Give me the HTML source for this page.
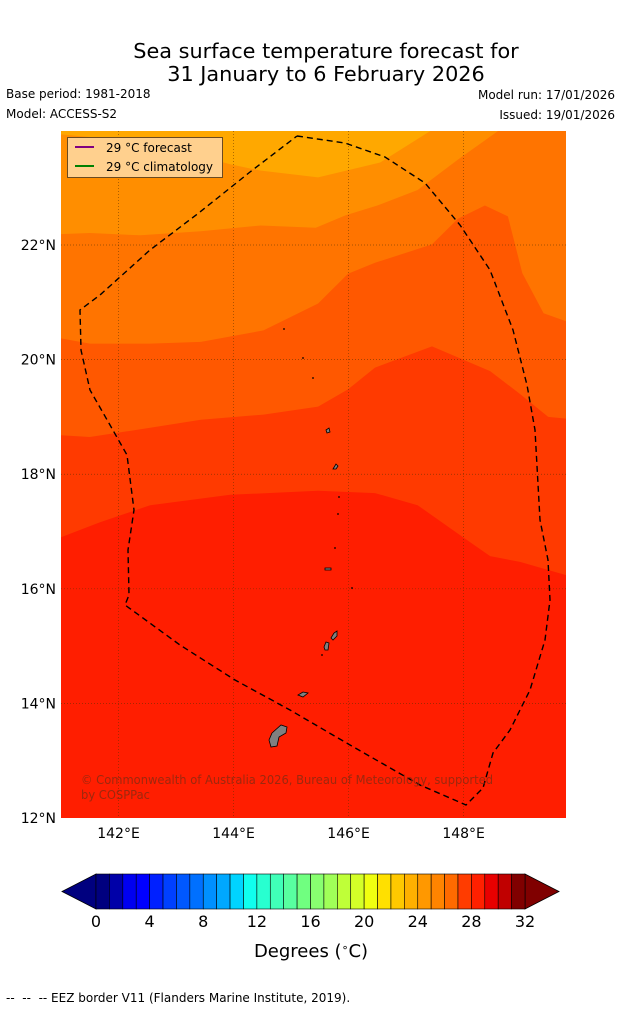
<!DOCTYPE html>
<html><head><meta charset="utf-8"><style>
body{margin:0;background:#fff;width:621px;height:1011px;overflow:hidden;font-family:"DejaVu Sans","Liberation Sans",sans-serif}
svg{position:absolute;left:0;top:0}
</style></head><body>
<svg id="chart" width="621" height="1011" xmlns="http://www.w3.org/2000/svg">
<text x="326" y="58" text-anchor="middle" font-size="20.8">Sea surface temperature forecast for</text>
<text x="326" y="81" text-anchor="middle" font-size="20.8">31 January to 6 February 2026</text>
<text x="6" y="98" font-size="12">Base period: 1981-2018</text>
<text x="6" y="118" font-size="12">Model: ACCESS-S2</text>
<text x="615" y="99" font-size="12" text-anchor="end">Model run: 17/01/2026</text>
<text x="615" y="119" font-size="12" text-anchor="end">Issued: 19/01/2026</text>
<g id="map"></g>
<g id="cbar"></g>
<text x="311" y="957" text-anchor="middle" font-size="18">Degrees (<tspan baseline-shift="super" font-size="11">∘</tspan>C)</text>
<text x="6" y="1002" font-size="12" xml:space="preserve">--  --  -- EEZ border V11 (Flanders Marine Institute, 2019).</text>
</svg>
<script>
const lonMin=141.0, lonMax=149.78, latMin=12.0, latMax=23.99;
const X0=61, X1=566, Y0=131, Y1=818;
function px(lon){return X0+(lon-lonMin)/(lonMax-lonMin)*(X1-X0);}
function py(lat){return Y1-(lat-latMin)/(latMax-latMin)*(Y1-Y0);}
function inv(x,y){return [lonMin+(x-X0)/(X1-X0)*(lonMax-lonMin), latMin+(Y1-y)/(Y1-Y0)*(latMax-latMin)];}

const bandColors=["#FFA800","#FF8E00","#FF7400","#FF5800","#FF3A00","#FF1E00"];
const boundaryLon1=[141.0,142.55,143.94,144.46,145.47,146.55,147.42];
const boundaryLat1=[23.93,23.79,23.41,23.30,23.18,23.44,23.99];
const boundaryLon2=[141.0,141.5,142.38,143.43,144.47,145.43,145.95,146.5,147.2,147.9,148.6];
const boundaryLat2=[22.19,22.21,22.17,22.24,22.34,22.30,22.52,22.69,22.96,23.49,23.99];
const boundaryLon3=[141.0,141.5,142.55,143.43,144.52,145.47,145.99,146.46,147.45,147.9,148.37,148.77,149.02,149.39,149.78];
const boundaryLat3=[20.37,20.28,20.28,20.31,20.51,20.98,21.50,21.69,22.01,22.46,22.69,22.50,21.51,20.81,20.67];
const boundaryLon4=[141.0,141.5,142.55,143.43,144.52,145.47,145.99,146.46,147.45,148.46,148.98,149.47,149.78];
const boundaryLat4=[18.68,18.65,18.81,18.95,19.04,19.18,19.48,19.86,20.23,19.80,19.40,19.00,18.97];
const boundaryLon5=[141.0,141.68,142.55,143.94,145.47,146.46,147.2,147.99,148.46,148.98,149.78];
const boundaryLat5=[16.90,17.16,17.46,17.64,17.71,17.67,17.46,16.90,16.57,16.47,16.24];
const boundariesLon=[boundaryLon1,boundaryLon2,boundaryLon3,boundaryLon4,boundaryLon5];
const boundariesLat=[boundaryLat1,boundaryLat2,boundaryLat3,boundaryLat4,boundaryLat5];

const eezPix=[[297,136],[345,143],[385,157],[425,183],[460,225],[490,270],[513,330],[527,385],[535,430],[540,520],[548,560],[550,600],[545,640],[530,690],[510,730],[493,753],[483,788],[466,805],[420,785],[350,745],[290,710],[235,680],[180,645],[125,605],[129,595],[128,550],[134,510],[127,455],[110,425],[90,390],[81,350],[80,310],[100,295],[150,250],[200,212],[250,172],[297,136]];
const eezLon=eezPix.map(p=>inv(p[0],p[1])[0]);
const eezLat=eezPix.map(p=>inv(p[0],p[1])[1]);

const NS="http://www.w3.org/2000/svg";
function mk(tag,attrs,parent){const e=document.createElementNS(NS,tag);for(const k in attrs)e.setAttribute(k,attrs[k]);parent.appendChild(e);return e;}
const map=document.getElementById('map');
let bg=mk('rect',{x:X0,y:Y0,width:X1-X0,height:Y1-Y0,fill:bandColors[5]},map);


for(let i=4;i>=0;i--){
  const lo=boundariesLon[i], la=boundariesLat[i];
  let d='M'+X0+','+Y0;
  for(let j=0;j<lo.length;j++) d+=' L'+px(lo[j]).toFixed(1)+','+py(la[j]).toFixed(1);
  d+=' L'+X1+','+Y0+' Z';
  const p=mk('path',{d:d,fill:bandColors[i]},map);
  
  
}
const gridLons=[142,144,146,148], gridLats=[14,16,18,20,22];
gridLons.forEach(l=>{const g=mk('line',{x1:px(l),x2:px(l),y1:Y0,y2:Y1,stroke:'#5a3000','stroke-width':0.7,'stroke-dasharray':'1,2','opacity':0.7},map);

});
gridLats.forEach(l=>{const g=mk('line',{x1:X0,x2:X1,y1:py(l),y2:py(l),stroke:'#5a3000','stroke-width':0.7,'stroke-dasharray':'1,2','opacity':0.7},map);

});
const islands=[
 "M272,733 L281,725 L287,727 L286,733 L279,737 L277,746 L271,747 L269,740 Z",
 "M298,695 L303,692 L308,693 L303,697 Z",
 "M324,647 L326,642 L329,643 L328,650 L325,650 Z",
 "M331,638 L334,633 L337,631 L337,636 L333,640 Z",
 "M326,430 L329,428 L330,432 L327,433 Z",
 "M333,469 L336,464 L338,466 L336,469 Z",
 "M325,568 L331,568 L331,570 L325,570 Z"];
islands.forEach(d=>{const e=mk('path',{d:d,fill:'#808080',stroke:'#000','stroke-width':0.8},map);

});
[[284,329],[303,358],[313,378],[339,497],[338,514],[335,548],[352,588],[322,655]].forEach(p=>{const e=mk('circle',{cx:p[0],cy:p[1],r:0.9,fill:'#000'},map);

});
let ed='';eezLon.forEach((l,i)=>{ed+=(i?' L':'M')+px(l).toFixed(1)+','+py(eezLat[i]).toFixed(1);});
const eez=mk('path',{d:ed,fill:'none',stroke:'#000','stroke-width':1.4,'stroke-dasharray':'6,4'},map);


const c1=mk('text',{x:81,y:784,'font-size':12,fill:'#8b2a10','fill-opacity':0.85,textLength:412,lengthAdjust:'spacingAndGlyphs'},map);c1.textContent='© Commonwealth of Australia 2026, Bureau of Meteorology, supported';


const c2=mk('text',{x:81,y:799,'font-size':12,fill:'#8b2a10','fill-opacity':0.85,textLength:69,lengthAdjust:'spacingAndGlyphs'},map);c2.textContent='by COSPPac';


const lg=mk('g',{},map);


mk('rect',{x:67.5,y:137.5,width:155,height:40,fill:'#FFD08E',stroke:'#6b4a20','stroke-width':1},lg);
mk('line',{x1:75,x2:94,y1:147,y2:147,stroke:'#800080','stroke-width':2},lg);
mk('line',{x1:75,x2:94,y1:166,y2:166,stroke:'#008000','stroke-width':2},lg);
const l1=mk('text',{x:106,y:152,'font-size':12},lg);l1.textContent='29 °C  forecast';


const l2=mk('text',{x:106,y:171,'font-size':12},lg);l2.textContent='29 °C  climatology';


const lonTicks=["142°E","144°E","146°E","148°E"], lonTickVals=[142,144,146,148];
const latTicks=["14°N","16°N","18°N","20°N","22°N","12°N"], latTickVals=[14,16,18,20,22,12];
lonTickVals.forEach((v,i)=>{const t=mk('text',{x:px(v),y:838,'font-size':14,'text-anchor':'middle'},map);t.textContent=lonTicks[i];

});
latTickVals.forEach((v,i)=>{const t=mk('text',{x:56,y:py(v)+5,'font-size':14,'text-anchor':'end'},map);t.textContent=latTicks[i];

});

const cbColors=["#00007F","#0000A8","#0000F0","#0000FF","#0020FF","#0040FF","#0058FF","#0070FF","#0090FF","#00A8FF","#00D4FF","#10FFEE","#28FFD0","#40FFB8","#58FFA0","#70FF80","#88FF70","#A0FF58","#BFFF38","#D4FF28","#F0FF10","#FFE000","#FFC800","#FFB000","#FF9800","#FF8400","#FF6A00","#FF3C00","#FF2000","#E80000","#C00000","#800000"];
const cbTicks=["0","4","8","12","16","20","24","28","32"], cbTickVals=[0,4,8,12,16,20,24,28,32];
const cb=document.getElementById('cbar');
const CX0=96, CX1=525, CY0=874, CY1=909;
function cx(v){return CX0+v/32*(CX1-CX0);}
const lt=mk('polygon',{points:`62,${(CY0+CY1)/2} ${CX0},${CY0} ${CX0},${CY1}`,fill:cbColors[0],stroke:'#000','stroke-width':0.8},cb);


const rt=mk('polygon',{points:`559,${(CY0+CY1)/2} ${CX1},${CY0} ${CX1},${CY1}`,fill:'#800000',stroke:'#000','stroke-width':0.8},cb);


cbColors.forEach((c,i)=>{const r=mk('rect',{x:cx(i),y:CY0,width:cx(i+1)-cx(i),height:CY1-CY0,fill:c,stroke:'#000','stroke-width':0.6},cb);

});
cbTickVals.forEach((v,i)=>{const t=mk('text',{x:cx(v),y:927,'font-size':16,'text-anchor':'middle'},cb);t.textContent=cbTicks[i];

});
</script>
</body></html>
